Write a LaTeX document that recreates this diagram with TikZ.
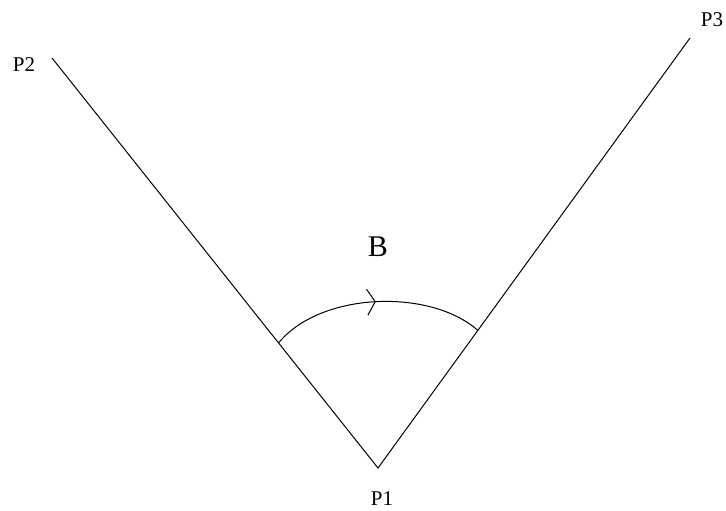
\documentclass[tikz,border=0pt]{standalone}
\usepackage{fontspec}
\setmainfont{Liberation Serif}
\usetikzlibrary{arrows.meta,decorations.markings,calc}
\begin{document}
\begin{tikzpicture}[x=1pt,y=-1pt,
  ray/.style={line width=1pt,black},
  plabel/.style={font=\fontsize{21}{21}\selectfont,inner sep=0pt},
  blabel/.style={font=\fontsize{30}{30}\selectfont,inner sep=0pt},
  arcmark/.style={line width=1pt,decoration={markings,mark=at position 0.5 with {\arrow{Straight Barb[length=8pt,width=26pt,line width=1pt]}}},postaction={decorate}}]
\useasboundingbox (0,0) rectangle (726,511);
\fill[white] (0,0) rectangle (726,511);
\coordinate (p1) at (378,468);
\coordinate (p2) at (52,58);
\coordinate (p3) at (690,38);
\coordinate (a) at ($(p1)!0.305!(p2)$);
\coordinate (b) at ($(p1)!0.32!(p3)$);
\draw[ray] (p2) -- (p1) -- (p3);
\draw[arcmark] (a) .. controls (320,292) and (430,288) .. (b);
\node[plabel] (lp2) at (24,65) {P2};
\node[plabel] (lp3) at (712,20) {P3};
\node[plabel] (lp1) at (382,499) {P1};
\node[blabel] (lb) at (378,247) {B};
\end{tikzpicture}
\end{document}
